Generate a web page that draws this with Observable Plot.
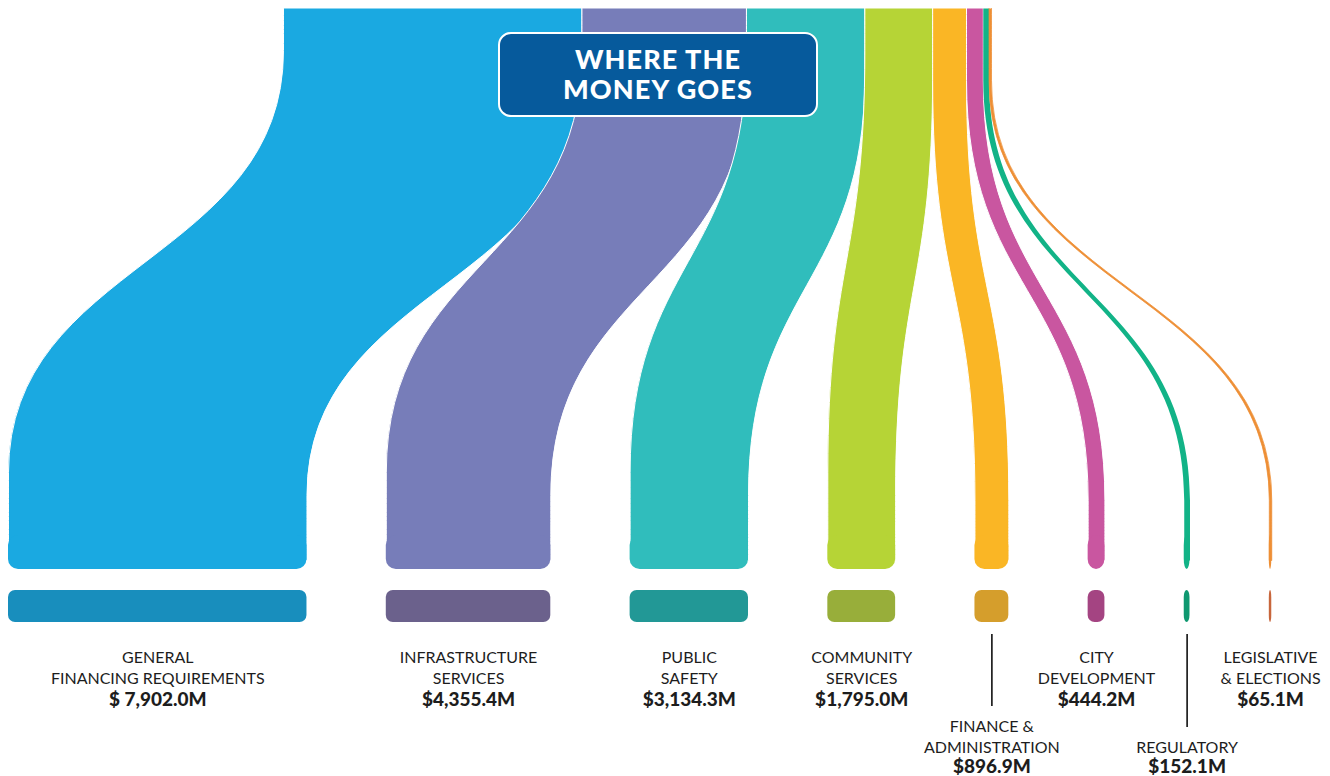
<!DOCTYPE html>
<html>
<head>
<meta charset="utf-8">
<script src="https://cdn.jsdelivr.net/npm/d3@7"></script>
<script src="https://cdn.jsdelivr.net/npm/@observablehq/plot@0.6"></script>
<style>
  html, body { margin: 0; padding: 0; background: #ffffff; }
  #wrap { position: relative; width: 1330px; height: 776px; overflow: hidden; font-family: Lato, "Open Sans", sans-serif; }
  #wrap svg { position: absolute; left: 0; top: 0; }
  #title {
    position: absolute; left: 498px; top: 32px; width: 320px; height: 85px;
    box-sizing: border-box; background: #065a9c; border: 2.5px solid #ffffff; border-radius: 13px;
    color: #ffffff; font-family: Lato, sans-serif; font-weight: 900; font-size: 27px; line-height: 30px;
    letter-spacing: 1.1px; text-align: center; padding-top: 10px;
  }
</style>
</head>
<body>
<div id="wrap"></div>
<script>
// ---- data ----
const categories = ["General Financing Requirements", "Infrastructure Services", "Public Safety", "Community Services",
  "Finance & Administration", "City Development", "Regulatory", "Legislative & Elections"];
const values = [7902.0, 4355.4, 3134.3, 1795.0, 896.9, 444.2, 152.1, 65.1];
const labelLine1 = ["GENERAL", "INFRASTRUCTURE", "PUBLIC", "COMMUNITY", "FINANCE &", "CITY", "", "LEGISLATIVE"];
const labelLine2 = ["FINANCING REQUIREMENTS", "SERVICES", "SAFETY", "SERVICES", "ADMINISTRATION", "DEVELOPMENT", "REGULATORY", "& ELECTIONS"];
const valueLabels = ["$ 7,902.0M", "$4,355.4M", "$3,134.3M", "$1,795.0M", "$896.9M", "$444.2M", "$152.1M", "$65.1M"];
const flowColors = ["#1aa9e1", "#777db9", "#30bdbc", "#b6d436", "#fab625", "#c956a0", "#12b387", "#ee8f35"];
const barColors = ["#188ebd", "#6b618c", "#229896", "#98ae3a", "#d59e2c", "#a44482", "#0f9870", "#c8663c"];
const titleLines = ["WHERE THE", "MONEY GOES"];
const droppedLabels = ["Finance & Administration", "Regulatory"];

// ---- layout (in $M along x, pixels along y) ----
const X_MAX = 35000;       // $M spanned by the chart width
const TOP_OFFSET = 7280;   // where the stacked budget starts at the top
const GAP = 2100;          // spacing between the spread-out departments
const Y_TOP = 8, Y_FLOW_END = 569, Y_BAR1 = 590, Y_BAR2 = 622;
const PX_PER_M = (1330 - 8) / X_MAX;

let topAcc = TOP_OFFSET, botAcc = 0;
const depts = categories.map((name, i) => {
  const v = values[i];
  const d = {
    name, v, i,
    xLt: topAcc, xRt: topAcc + v,
    xLb: botAcc, xRb: botAcc + v,
    flow: flowColors[i], bar: barColors[i],
    l1: labelLine1[i], l2: labelLine2[i], val: valueLabels[i],
    dropped: droppedLabels.includes(name)
  };
  d.cx = (d.xLb + d.xRb) / 2;
  topAcc += v;
  botAcc += v + GAP;
  return d;
});

function flowOutline(d) {
  const leftMoving = (d.xLb + d.xRb) < (d.xLt + d.xRt);
  const [aL, bL] = leftMoving ? [50, 472] : [80, 500];
  const [aR, bR] = leftMoving ? [75, 495] : [80, 500];
  return [
    {x: d.xLt, y: Y_TOP}, {x: d.xLt, y: aL}, {x: d.xLb, y: bL}, {x: d.xLb, y: 560},
    {x: d.xRb, y: 560}, {x: d.xRb, y: bR}, {x: d.xRt, y: aR}, {x: d.xRt, y: Y_TOP}
  ];
}

const marks = [];
depts.forEach(d => {
  const wpx = d.v * PX_PER_M;
  const thin = wpx < 3.2;
  marks.push(Plot.line(flowOutline(d), {
    x: "x", y: "y", curve: "bump-y", fill: d.flow,
    stroke: d.v > 400 ? "#ffffff" : (thin ? d.flow : "none"),
    strokeWidth: d.v > 400 ? 1 : (thin ? 3.2 - wpx : 0)
  }));
});
// rounded flow ends
marks.push(Plot.rect(depts, {x1: "xLb", x2: "xRb", y1: () => 535, y2: () => Y_FLOW_END, fill: "flow", rx: 10}));
// department bars
marks.push(Plot.rect(depts, {x1: "xLb", x2: "xRb", y1: () => Y_BAR1, y2: () => Y_BAR2, fill: "bar", rx: 7}));

// labels
const labelRows = [];
depts.forEach(d => {
  const base = d.dropped ? 69 : 0;
  if (d.l1) labelRows.push({cx: d.cx, y: 657 + base, text: d.l1, size: 16, weight: 400});
  labelRows.push({cx: d.cx, y: 678 + base, text: d.l2, size: 16, weight: 400});
  labelRows.push({cx: d.cx, y: (d.dropped ? 697 : 699) + base, text: d.val, size: 19, weight: 900});
});
const leaders = depts.filter(d => d.dropped).map(d => ({cx: d.cx, y1: 634, y2: d.l1 ? 706 : 727}));

marks.push(Plot.ruleX(leaders, {x: "cx", y1: "y1", y2: "y2", stroke: "#111111", strokeWidth: 1.6}));
for (const w of [400, 900]) {
  for (const s of [16, 19]) {
    const rows = labelRows.filter(r => r.weight === w && r.size === s);
    if (!rows.length) continue;
    marks.push(Plot.text(rows, {
      x: "cx", y: "y", text: "text", textAnchor: "middle", lineAnchor: "middle",
      fontSize: s, fontWeight: w, fill: "#1d1d1d", fontFamily: "Lato"
    }));
  }
}

const chart = Plot.plot({
  width: 1330, height: 776,
  marginTop: 0, marginBottom: 0, marginLeft: 0, marginRight: 0,
  x: {type: "linear", domain: [0, X_MAX], range: [8, 1330], axis: null},
  y: {type: "linear", domain: [0, 776], range: [0, 776], axis: null},
  style: {background: "transparent", fontFamily: "Lato, sans-serif", overflow: "visible"},
  marks
});

const wrap = document.getElementById("wrap");
wrap.appendChild(chart);
const title = document.createElement("div");
title.id = "title";
title.innerHTML = titleLines.map(t => `<div>${t}</div>`).join("");
wrap.appendChild(title);
</script>
</body>
</html>
